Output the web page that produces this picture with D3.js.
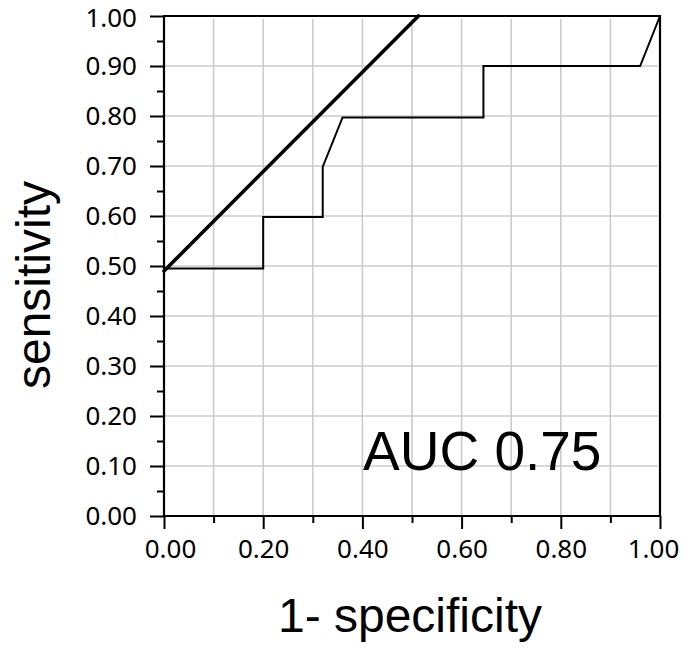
<!DOCTYPE html>
<html>
<head>
<meta charset="utf-8">
<script src="https://cdn.jsdelivr.net/npm/d3@7"></script>
<style>
  html, body { margin: 0; padding: 0; background: #fff; }
  svg { display: block; }
</style>
</head>
<body>
<svg id="chart" width="685" height="647"></svg>
<script>
// ---- data ----
const rocX = [0, 0.2, 0.2, 0.32, 0.32, 0.36, 0.644, 0.644, 0.96, 1.0];
const rocY = [0.495, 0.495, 0.598, 0.598, 0.698, 0.797, 0.797, 0.9, 0.9, 1.0];
const refX = [0, 0.513];
const refY = [0.49, 1.0];
const majorTicks = [0, 0.1, 0.2, 0.3, 0.4, 0.5, 0.6, 0.7, 0.8, 0.9, 1.0];
const xTickValues = [0, 0.2, 0.4, 0.6, 0.8, 1.0];
const xMinorTicks = [0.1, 0.3, 0.5, 0.7, 0.9];
const yMinorTicks = [0.05, 0.15, 0.25, 0.35, 0.45, 0.55, 0.65, 0.75, 0.85, 0.95];
const xTitle = "1- specificity";
const yTitle = "sensitivity";
const aucLabel = "AUC 0.75";

// ---- layout ----
const L = 164, R = 660, T = 16, B = 516;
const x = d3.scaleLinear().domain([0, 1]).range([L, R]);
const y = d3.scaleLinear().domain([0, 1]).range([B, T]);
const svg = d3.select("#chart");
const fmt = d3.format(".2f");
const tickFont = "'Noto Sans', 'DejaVu Sans', sans-serif";
const titleFont = "'Liberation Sans', Arial, sans-serif";

// grid
const grid = svg.append("g").attr("stroke", "#cbcbcb").attr("stroke-width", 1.6);
grid.selectAll("line.gx").data(majorTicks.filter(d => d > 0 && d < 1)).join("line")
  .attr("x1", d => x(d)).attr("x2", d => x(d)).attr("y1", T + 3).attr("y2", B);
grid.selectAll("line.gy").data(majorTicks.filter(d => d > 0 && d < 1)).join("line")
  .attr("class", "gy")
  .attr("x1", L).attr("x2", R - 2).attr("y1", d => y(d)).attr("y2", d => y(d));

// y axis (left)
const yAxis = d3.axisLeft(y).tickValues(majorTicks).tickFormat(fmt).tickSize(14).tickSizeOuter(0).tickPadding(13);
const gy = svg.append("g").attr("transform", `translate(${L},0)`).call(yAxis);
gy.select(".domain").remove();
gy.selectAll(".tick line").attr("stroke", "#000").attr("stroke-width", 2);
gy.selectAll(".tick text").attr("font-family", tickFont).attr("font-size", 26).attr("fill", "#000")
  .attr("dy", d => d === 1 ? "0.42em" : "0.32em");
const yMinor = d3.axisLeft(y).tickValues(yMinorTicks).tickFormat("").tickSize(7).tickSizeOuter(0);
const gym = svg.append("g").attr("transform", `translate(${L},0)`).call(yMinor);
gym.select(".domain").remove();
gym.selectAll(".tick line").attr("stroke", "#000").attr("stroke-width", 2);

// x axis (bottom)
const xAxis = d3.axisBottom(x).tickValues(xTickValues).tickFormat(fmt).tickSize(13).tickSizeOuter(0).tickPadding(11);
const gx = svg.append("g").attr("transform", `translate(0,${B})`).call(xAxis);
gx.select(".domain").remove();
gx.selectAll(".tick line").attr("stroke", "#000").attr("stroke-width", 2);
gx.selectAll(".tick text").attr("font-family", tickFont).attr("font-size", 26).attr("fill", "#000")
  .attr("dx", d => d === 0 ? 6 : d === 1 ? -7 : 0);
const xMinor = d3.axisBottom(x).tickValues(xMinorTicks).tickFormat("").tickSize(7).tickSizeOuter(0);
const gxm = svg.append("g").attr("transform", `translate(0,${B})`).call(xMinor);
gxm.select(".domain").remove();
gxm.selectAll(".tick line").attr("stroke", "#000").attr("stroke-width", 2);

// frame
svg.append("path")
  .attr("d", `M${L},${B}V${T}H${R}V${B}H${L}`)
  .attr("fill", "none").attr("stroke", "#000").attr("stroke-width", 2.2);

// ROC curve
const line = d3.line().x(d => x(d[0])).y(d => y(d[1]));
svg.append("path")
  .datum(rocX.map((v, i) => [v, rocY[i]]))
  .attr("d", line).attr("fill", "none").attr("stroke", "#000").attr("stroke-width", 2);

// reference thick line
svg.append("path")
  .datum(refX.map((v, i) => [v, refY[i]]))
  .attr("d", line).attr("fill", "none").attr("stroke", "#000").attr("stroke-width", 3.6)
  .attr("stroke-linecap", "round");

// AUC label
svg.append("text").attr("x", 363).attr("y", 470)
  .attr("font-family", titleFont).attr("font-size", 55).attr("fill", "#000").text(aucLabel);

// axis titles
svg.append("text").attr("x", 410).attr("y", 632).attr("text-anchor", "middle")
  .attr("font-family", titleFont).attr("font-size", 48).attr("fill", "#000").text(xTitle);
svg.append("text").attr("transform", "translate(50,285) rotate(-90)").attr("text-anchor", "middle")
  .attr("font-family", titleFont).attr("font-size", 48).attr("fill", "#000").text(yTitle);
</script>
</body>
</html>
